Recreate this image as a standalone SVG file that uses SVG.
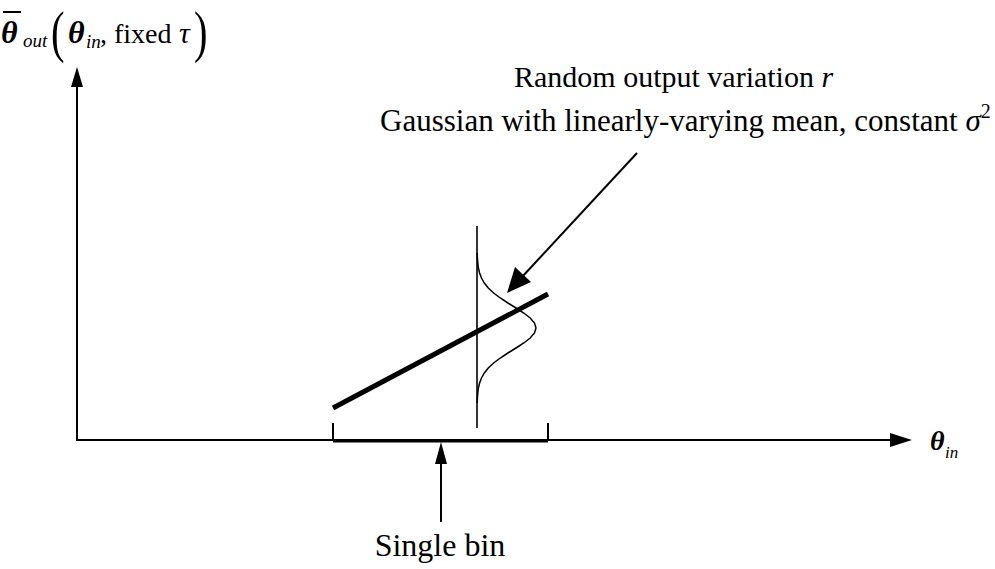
<svg xmlns="http://www.w3.org/2000/svg" width="995" height="569" viewBox="0 0 995 569">
<style>
.t{font-family:"Liberation Serif","Times New Roman",serif;fill:#000}
.i{font-style:italic}
.ln{stroke:#000;fill:none}
</style>
<rect width="995" height="569" fill="#fff"/>
<g id="axes">
<line class="ln" x1="77" y1="440" x2="77" y2="84" stroke-width="2"/>
<path d="M77,67 L83,87 L71,87 Z" fill="#000"/>
<line class="ln" x1="76" y1="440" x2="892" y2="440" stroke-width="2"/>
<path d="M912,440 L890,433 L890,447 Z" fill="#000"/>
</g>
<g id="ylabel">
<text class="t i" x="1" y="43" font-size="32" font-weight="bold">θ</text>
<line class="ln" x1="3" y1="12" x2="21" y2="12" stroke-width="2"/>
<text class="t i" x="23" y="47" font-size="19">out</text>
<text class="t" transform="translate(51,51) scale(0.7,1)" font-size="58">(</text>
<text class="t i" x="68" y="43" font-size="32" font-weight="bold">θ</text>
<text class="t i" x="86" y="48" font-size="19">in</text>
<text class="t" x="100" y="43" font-size="28">, fixed</text>
<text class="t i" x="179" y="43" font-size="30">τ</text>
<text class="t" transform="translate(194,51) scale(0.7,1)" font-size="58">)</text>
</g>
<g id="xlabel">
<text class="t i" x="930" y="450" font-size="28" font-weight="bold">θ</text>
<text class="t i" x="945" y="458" font-size="17">in</text>
</g>
<g id="bin">
<line class="ln" x1="333" y1="423" x2="333" y2="441" stroke-width="2"/>
<line class="ln" x1="548" y1="423" x2="548" y2="441" stroke-width="2"/>
<line class="ln" x1="333" y1="441" x2="548" y2="441" stroke-width="3"/>
</g>
<g id="trend">
<line class="ln" x1="333" y1="408" x2="548" y2="294" stroke-width="5"/>
</g>
<g id="gaussian">
<line class="ln" x1="477" y1="226" x2="477" y2="428" stroke-width="1.6"/>
<polyline class="ln" stroke-width="1.5" points="477.2,253 477.4,258 477.8,263 478.4,268 479.6,273 481.5,278 484.3,283 488.3,288 493.6,293 500.3,298 507.9,303 516,308 523.8,313 530.2,318 534.5,323 536,328 534.5,333 530.2,338 523.8,343 516,348 507.9,353 500.3,358 493.6,363 488.3,368 484.3,373 481.5,378 479.6,383 478.4,388 477.8,393 477.4,398 477.2,403"/>
</g>
<g id="annotation">
<text class="t" x="514" y="87" font-size="30">Random output variation <tspan class="i">r</tspan></text>
<text class="t" x="380" y="131" font-size="31">Gaussian with linearly-varying mean, constant <tspan class="i">σ</tspan><tspan font-size="20" dy="-13">2</tspan></text>
</g>
<g id="connectors">
<line class="ln" x1="637" y1="153" x2="522" y2="277" stroke-width="2"/>
<path d="M507,293 L515,267 L531,282 Z" fill="#000"/>
<line class="ln" x1="441" y1="522" x2="441" y2="460" stroke-width="2"/>
<path d="M441,442 L447,464 L435,464 Z" fill="#000"/>
</g>
<g id="binlabel">
<text class="t" x="440" y="556" font-size="32" text-anchor="middle">Single bin</text>
</g>
</svg>
